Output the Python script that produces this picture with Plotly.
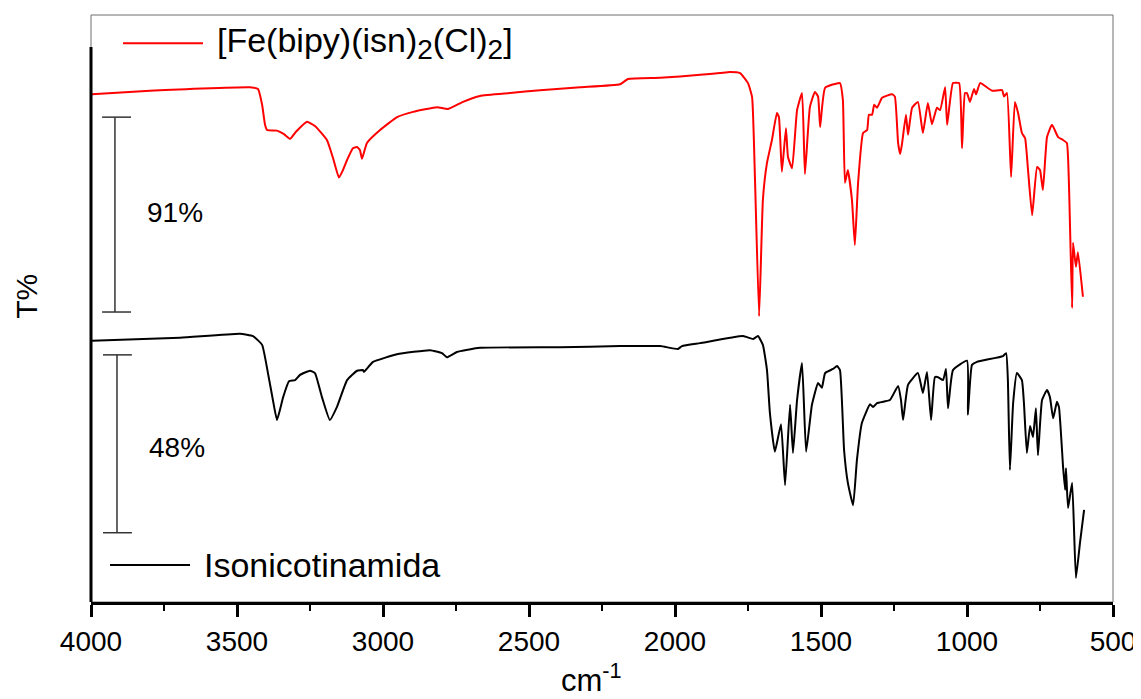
import plotly.graph_objects as go

# ---------------- data ----------------
red_wn = [3997, 3798, 3455, 3428, 3414, 3404, 3397, 3363, 3339, 3318, 3298, 3260, 3233, 3192,
          3171, 3151, 3137, 3123, 3103, 3089, 3079, 3072, 3055, 3010, 2952, 2897, 2815, 2777,
          2726, 2668, 2565, 2462, 2325, 2188, 2161, 2051, 1914, 1846, 1812, 1777, 1750, 1736,
          1726, 1712, 1699, 1685, 1668, 1651, 1644, 1634, 1620, 1613, 1599, 1582, 1565, 1555,
          1538, 1521, 1510, 1503, 1486, 1435, 1425, 1418, 1408, 1394, 1384, 1373, 1356, 1342,
          1336, 1325, 1318, 1308, 1291, 1257, 1247, 1236, 1229, 1223, 1209, 1202, 1188, 1168,
          1151, 1134, 1120, 1103, 1092, 1075, 1068, 1048, 1027, 1017, 1007, 1000, 990, 976,
          969, 955, 914, 880, 873, 863, 849, 836, 825, 812, 801, 791, 777, 760, 750, 740,
          726, 709, 688, 671, 658, 651, 640, 637, 627, 620, 603]
red_t = [86.5, 87.1, 87.7, 87.4, 84.7, 81.3, 80.4, 80.3, 79.7, 78.9, 80.1, 81.8, 81.1, 78.7,
         75.6, 72.3, 73.6, 75.3, 77.3, 77.5, 77.0, 75.5, 78.2, 80.4, 82.6, 83.5, 84.3, 84.0,
         85.2, 86.2, 86.7, 87.2, 87.7, 88.2, 89.1, 89.3, 89.8, 90.1, 90.3, 90.1, 88.4, 86.0,
         71.9, 48.7, 68.5, 74.8, 78.7, 83.3, 82.6, 73.3, 80.7, 75.8, 73.9, 83.8, 86.7, 72.9,
         84.3, 86.9, 86.1, 80.9, 87.6, 88.4, 85.5, 71.4, 73.6, 68.5, 60.8, 71.4, 79.9, 80.4,
         83.0, 83.0, 84.7, 84.2, 85.9, 86.5, 86.1, 78.2, 76.3, 77.9, 83.0, 79.6, 84.2, 85.2,
         79.9, 85.0, 81.4, 84.2, 83.8, 87.7, 81.3, 88.4, 88.4, 77.3, 86.7, 86.7, 85.2, 87.4,
         86.5, 88.4, 87.1, 87.2, 86.1, 86.7, 72.4, 85.2, 83.3, 79.9, 79.0, 73.6, 65.9, 74.1,
         73.6, 70.2, 79.2, 81.3, 79.2, 78.7, 78.2, 71.4, 50.1, 61.2, 57.1, 59.6, 52.0]

black_wn = [3997, 3695, 3490, 3445, 3414, 3394, 3377, 3363, 3342, 3322, 3301, 3284, 3250, 3233,
            3209, 3182, 3158, 3123, 3089, 3068, 3065, 3034, 2952, 2839, 2798, 2781, 2747, 2668,
            2394, 2188, 2051, 1990, 1976, 1914, 1767, 1733, 1716, 1699, 1685, 1675, 1658, 1637,
            1623, 1606, 1596, 1582, 1565, 1551, 1531, 1510, 1497, 1486, 1459, 1445, 1435, 1421,
            1408, 1390, 1377, 1360, 1332, 1322, 1308, 1264, 1236, 1226, 1219, 1202, 1168, 1151,
            1137, 1123, 1110, 1099, 1082, 1072, 1065, 1048, 1000, 997, 983, 966, 877, 866, 860,
            853, 842, 829, 812, 805, 795, 784, 774, 764, 757, 743, 726, 716, 705, 692, 685, 671,
            664, 661, 654, 640, 627, 613, 599]
black_t = [44.5, 45.0, 45.7, 45.3, 43.8, 39.0, 34.4, 31.0, 34.9, 37.6, 37.8, 38.7, 39.4, 39.0,
           34.9, 31.0, 33.2, 37.8, 39.4, 39.5, 39.2, 40.9, 42.2, 42.9, 42.4, 41.7, 42.6, 43.3,
           43.4, 43.6, 43.6, 43.1, 43.6, 44.1, 45.3, 44.8, 45.3, 43.8, 39.5, 32.2, 25.6, 30.3,
           19.9, 33.6, 25.4, 34.4, 40.7, 25.6, 33.6, 37.3, 36.5, 39.0, 39.7, 40.2, 39.5, 25.9,
           20.3, 16.5, 24.2, 30.5, 33.7, 33.2, 33.9, 34.4, 36.8, 34.4, 31.0, 37.0, 39.0, 35.6,
           39.2, 31.0, 38.3, 38.3, 37.8, 39.7, 33.0, 39.5, 41.1, 31.9, 40.4, 40.9, 41.9, 42.4, 37.8,
           22.5, 33.9, 39.0, 37.8, 33.9, 25.4, 30.0, 28.1, 33.0, 25.0, 34.4, 36.1, 34.9, 31.3, 34.1, 33.2, 23.0,
           19.1, 22.8, 16.0, 20.3, 4.1, 10.1, 15.7]

series_names = ["[Fe(bipy)(isn)<sub><span style='font-size:28px'>2</span></sub>(Cl)<sub><span style='font-size:28px'>2</span></sub>]",
                "Isonicotinamida"]
scale_labels = ["91%", "48%"]
x_ticks = [4000, 3500, 3000, 2500, 2000, 1500, 1000, 500]

FONT = "Liberation Sans, Arial, Helvetica, sans-serif"

fig = go.Figure()
fig.add_trace(go.Scatter(x=red_wn, y=red_t, mode="lines", name="[Fe(bipy)(isn)2(Cl)2]",
                         line=dict(color="#ff0000", width=2, shape="spline", smoothing=0.4),
                         showlegend=False))
fig.add_trace(go.Scatter(x=black_wn, y=black_t, mode="lines", name=series_names[1],
                         line=dict(color="#000000", width=2, shape="spline", smoothing=0.4),
                         showlegend=False))

shapes = []
# thin gray frame
shapes.append(dict(type="rect", xref="paper", yref="paper", x0=0, x1=1, y0=0, y1=1,
                   line=dict(color="#6e6e6e", width=1), layer="below"))
# thick black left spine (partial, as in reference)
shapes.append(dict(type="line", xref="paper", yref="paper", x0=0, x1=0, y0=0, y1=0.9455,
                   line=dict(color="black", width=3)))

# scale bars (data coords)
bar_col = "#333333"
for (xc, xl, xr, yt, yb) in [(3918, 3962, 3863, 82.6, 49.4), (3911, 3959, 3860, 42.1, 11.8)]:
    shapes.append(dict(type="line", xref="x", yref="y", x0=xc, x1=xc, y0=yb, y1=yt,
                       line=dict(color=bar_col, width=1.5)))
    shapes.append(dict(type="line", xref="x", yref="y", x0=xl, x1=xr, y0=yt, y1=yt,
                       line=dict(color=bar_col, width=1.5)))
    shapes.append(dict(type="line", xref="x", yref="y", x0=xl, x1=xr, y0=yb, y1=yb,
                       line=dict(color=bar_col, width=1.5)))

# legend sample lines
shapes.append(dict(type="line", xref="paper", yref="paper", x0=0.0313, x1=0.1096, y0=0.952, y1=0.952,
                   line=dict(color="#ff0000", width=2)))
shapes.append(dict(type="line", xref="paper", yref="paper", x0=0.0186, x1=0.0969, y0=0.063, y1=0.063,
                   line=dict(color="black", width=2)))

annotations = [
    dict(text=series_names[0], xref="paper", yref="paper", x=0.1213, y=0.952, xanchor="left",
         yanchor="middle", showarrow=False, font=dict(size=34, color="black", family=FONT)),
    dict(text=series_names[1], xref="paper", yref="paper", x=0.1086, y=0.063, xanchor="left",
         yanchor="middle", showarrow=False, font=dict(size=34, color="black", family=FONT)),
    dict(text=scale_labels[0], xref="paper", yref="paper", x=0.0528, y=0.663, xanchor="left",
         yanchor="middle", showarrow=False, font=dict(size=28, color="black", family=FONT)),
    dict(text=scale_labels[1], xref="paper", yref="paper", x=0.0548, y=0.264, xanchor="left",
         yanchor="middle", showarrow=False, font=dict(size=28, color="black", family=FONT)),
    dict(text="T%", xref="paper", yref="paper", x=-0.0626, y=0.52, textangle=-90,
         xanchor="center", yanchor="middle", showarrow=False,
         font=dict(size=30, color="black", family=FONT)),
    dict(text="cm<sup>-1</sup>", xref="paper", yref="paper", x=0.49, y=-0.13,
         xanchor="center", yanchor="middle", showarrow=False,
         font=dict(size=31, color="black", family=FONT)),
]

fig.update_layout(
    width=1141, height=699,
    # page body has an 8px default margin; offsets compensate so the plot lands where the reference has it
    margin=dict(l=83, r=36, t=7, b=105, autoexpand=False),
    paper_bgcolor="white", plot_bgcolor="white",
    shapes=shapes, annotations=annotations,
    font=dict(family=FONT, color="black"),
    xaxis=dict(range=[4000, 500], tickvals=x_ticks, ticktext=[str(v) for v in x_ticks],
               ticks="outside", ticklen=12, tickwidth=2.5, tickcolor="black",
               showline=True, linewidth=3, linecolor="black", mirror=False,
               showgrid=False, zeroline=False,
               tickfont=dict(size=28, color="black", family=FONT),
               minor=dict(ticks="outside", ticklen=6, tickwidth=2, tickcolor="black",
                          tickvals=[3750, 3250, 2750, 2250, 1750, 1250, 750], showgrid=False)),
    yaxis=dict(range=[0, 100], showticklabels=False, ticks="", showgrid=False,
               zeroline=False, showline=False),
)

fig.write_html("out.html")
